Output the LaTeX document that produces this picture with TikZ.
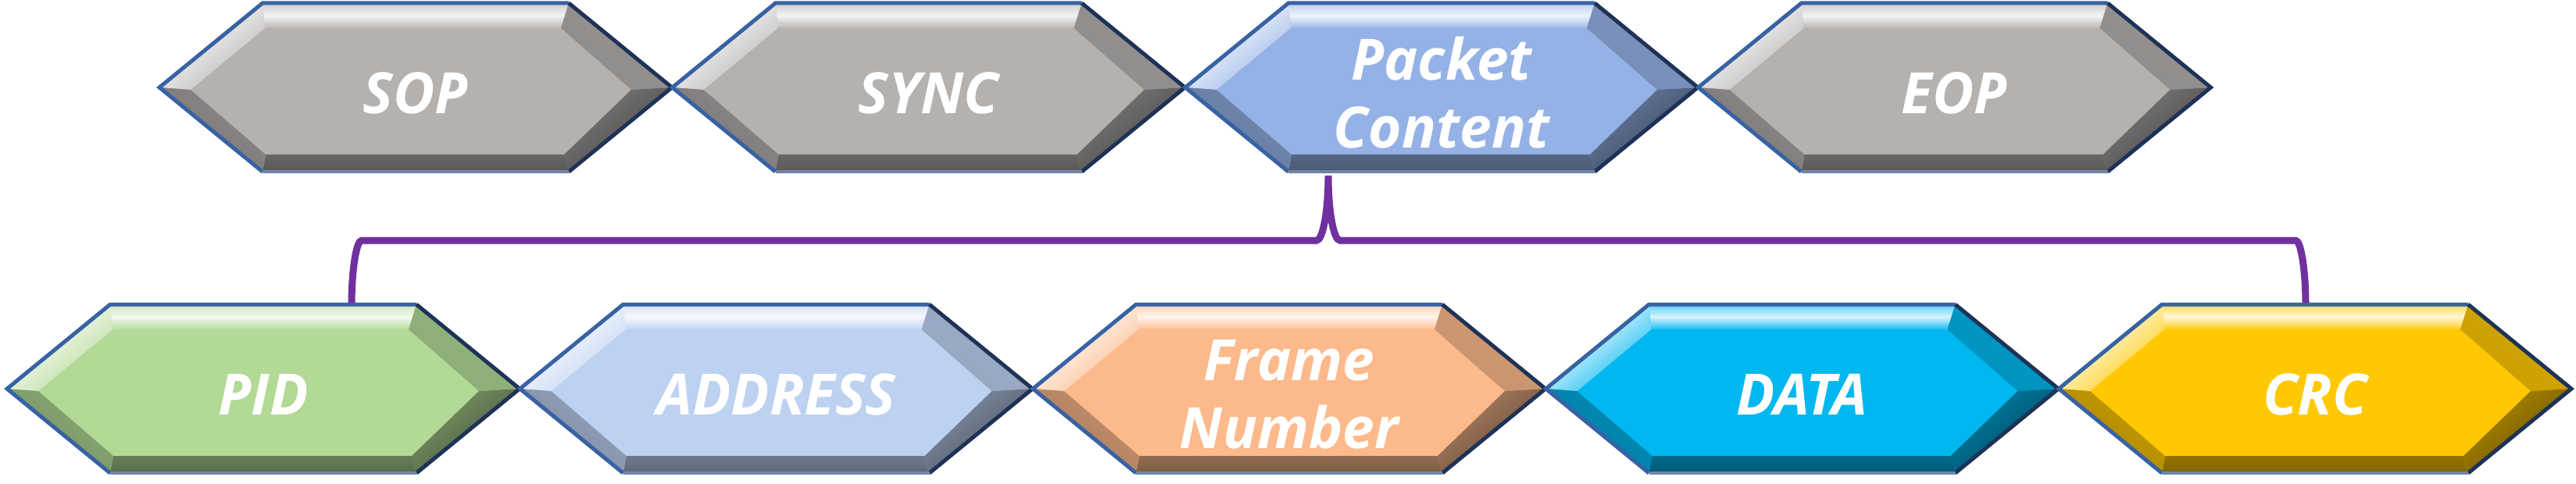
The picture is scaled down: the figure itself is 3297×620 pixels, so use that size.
\documentclass[tikz,border=0pt]{standalone}
\usepackage{fontspec}
\newfontfamily\hexfont{Open Sans}
\usetikzlibrary{calc}
\definecolor{cgray}{HTML}{B4B1AF}
\definecolor{cpc}{HTML}{94B2E6}
\definecolor{cpid}{HTML}{B2D995}
\definecolor{caddr}{HTML}{BDD1F1}
\definecolor{cframe}{HTML}{FCB98B}
\definecolor{cdata}{HTML}{00B7EF}
\definecolor{ccrc}{HTML}{FFC800}
\definecolor{olblue}{HTML}{3862A3}
\definecolor{olnavy}{HTML}{1E3257}
\definecolor{olgray}{HTML}{7086A8}
\definecolor{braceviolet}{HTML}{7030A0}
\tikzset{
  hexlabel/.style={text=white, font=\hexfont\bfseries\itshape\fontsize{36.5}{43.5}\selectfont, align=center, inner sep=0pt, yshift=-3.5pt},
  bracestyle/.style={draw=braceviolet, line width=4.5pt},
  outlinelight/.style={draw=olblue, line width=2.5pt, line join=miter},
  outlinedark/.style={draw=olnavy, line width=2.5pt, line join=miter},
  outlinebottom/.style={draw=olgray, line width=1.6pt},
}
\newcommand\HexItem[5]{%
\begin{scope}[shift={(#2,#3)}]
  \fill[#4] (-328,0) -- (-196,-108) -- (196,-108) -- (328,0) -- (196,108) -- (-196,108) -- cycle;
  \shade[top color=#4!65!white, bottom color=#4!92!white, middle color=#4!15!white]
    (-196,-108) -- (196,-108) -- (186,-76) -- (-193,-76) -- cycle;
  \shade[top color=#4!75!white, bottom color=#4!95!white, middle color=#4!40!white, shading angle=39]
    (-328,0) -- (-196,-108) -- (-193,-76) -- (-288,3) -- cycle;
  \shade[top color=#4!82!black, bottom color=#4!80!black, shading angle=-39]
    (196,-108) -- (328,0) -- (276,3) -- (186,-76) -- cycle;
  \shade[top color=#4!70!black, bottom color=#4!38!black, shading angle=39]
    (328,0) -- (196,108) -- (190,86) -- (276,3) -- cycle;
  \shade[top color=#4!58!black, bottom color=#4!50!black]
    (196,108) -- (-196,108) -- (-192,86) -- (190,86) -- cycle;
  \shade[top color=#4!78!black, bottom color=#4!66!black, shading angle=-39]
    (-196,108) -- (-328,0) -- (-288,3) -- (-192,86) -- cycle;
  \draw[outlinelight] (-196,108) -- (-328,0) -- (-196,-108) -- (196,-108);
  \draw[outlinedark] (196,-108) -- (328,0) -- (196,108);
  \draw[outlinebottom] (196,108) -- (-196,108);
\end{scope}
\node[hexlabel] (#1) at (#2,#3) {#5};
}
\begin{document}
\begin{tikzpicture}[x=0.5pt, y=-0.5pt]
\useasboundingbox (0,0) rectangle (3297,620);
% brace connector
\coordinate (braceTip) at (1700,225);
\coordinate (braceL) at (450,392);
\coordinate (braceR) at (2951,392);
\draw[bracestyle] (braceL) .. controls +(0,-46) and +(-7,0) .. (463,308)
  -- (1685,308) .. controls +(8,0) and +(0,46) .. (braceTip)
  .. controls +(0,46) and +(-8,0) .. (1715,308)
  -- (2938,308) .. controls +(7,0) and +(0,-46) .. (braceR);
% top row
\HexItem{sop}{532}{112}{cgray}{SOP}
\HexItem{sync}{1188.5}{112}{cgray}{SYNC}
\HexItem{pc}{1845}{112}{cpc}{Packet\\Content}
\HexItem{eop}{2501.5}{112}{cgray}{EOP}
% bottom row
\HexItem{pid}{337}{498}{cpid}{PID}
\HexItem{addr}{993.5}{498}{caddr}{ADDRESS}
\HexItem{frame}{1650}{498}{cframe}{Frame\\Number}
\HexItem{data}{2306.5}{498}{cdata}{DATA}
\HexItem{crc}{2963}{498}{ccrc}{CRC}
\end{tikzpicture}
\end{document}
